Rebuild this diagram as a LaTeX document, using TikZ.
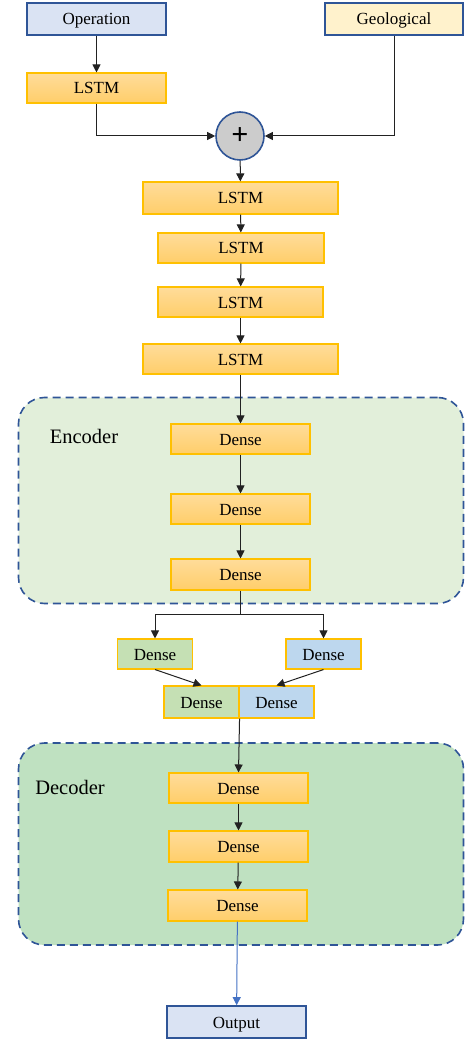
\documentclass[tikz,border=0pt]{standalone}
\usepackage{fontspec}
\setmainfont{Liberation Serif}
\usetikzlibrary{arrows.meta}
\definecolor{bdblue}{HTML}{2F5597}
\definecolor{inblue}{HTML}{DAE3F3}
\definecolor{geofill}{HTML}{FFF2CC}
\definecolor{gold}{HTML}{FFC000}
\definecolor{orgtop}{HTML}{FFDC9A}
\definecolor{orgbot}{HTML}{FFCE6A}
\definecolor{gfill}{HTML}{C5E0B4}
\definecolor{bfill}{HTML}{BDD7EE}
\definecolor{encfill}{HTML}{E2EFDA}
\definecolor{decfill}{HTML}{BFE1C1}
\definecolor{outarrow}{HTML}{4472C4}
\definecolor{lnk}{HTML}{222222}
\tikzset{
  txt/.style={font=\fontsize{17}{20}\selectfont, text=black, text height=12pt, text depth=-1pt},
  inbox/.style={txt, draw=bdblue, line width=1.6pt, fill=inblue, inner sep=0pt},
  geobox/.style={txt, draw=bdblue, line width=1.6pt, fill=geofill, inner sep=0pt},
  orgbox/.style={txt, draw=gold, line width=1.1pt, top color=orgtop, bottom color=orgbot, inner sep=0pt},
  gbox/.style={txt, draw=gold, line width=1.1pt, fill=gfill, inner sep=0pt, minimum width=75pt, minimum height=30pt},
  bbox/.style={txt, draw=gold, line width=1.1pt, fill=bfill, inner sep=0pt, minimum width=75pt, minimum height=30pt},
  container/.style={draw=bdblue, line width=1.6pt, dash pattern=on 8pt off 5pt, rounded corners=26pt, inner sep=0pt},
  grplabel/.style={font=\fontsize{20.5}{24}\selectfont, text=black},
  arr/.style={draw=lnk, line width=1pt, -{Triangle[width=8pt,length=8pt]}},
  plain/.style={draw=lnk, line width=1pt},
}
\begin{document}
\begin{tikzpicture}[x=1pt,y=-1pt]
\useasboundingbox (0,0) rectangle (464,1040);
% containers
\node[container, fill=encfill, minimum width=445pt, minimum height=206pt] (enc) at (241,500.5) {};
\node[container, fill=decfill, minimum width=445pt, minimum height=202pt] (dec) at (241,844) {};
\node[grplabel] (enclab) at (84,436) {Encoder};
\node[grplabel] (declab) at (70,787) {Decoder};
% inputs
\node[inbox, minimum width=139pt, minimum height=32pt] (op) at (96.5,19) {Operation};
\node[geobox, minimum width=138pt, minimum height=32pt] (geo) at (394,19) {Geological};
\node[orgbox, minimum width=139pt, minimum height=30pt] (l0) at (96.5,88) {LSTM};
\node[circle, draw=bdblue, line width=1.6pt, fill=gray!40, minimum size=48pt, inner sep=0pt, font=\fontsize{30}{30}\bfseries] (plus) at (240,136) {+};
% LSTM stack
\node[orgbox, minimum width=195pt, minimum height=32pt] (l1) at (240.5,198) {LSTM};
\node[orgbox, minimum width=166pt, minimum height=30pt] (l2) at (241,248) {LSTM};
\node[orgbox, minimum width=165pt, minimum height=30pt] (l3) at (240.5,302) {LSTM};
\node[orgbox, minimum width=195pt, minimum height=30pt] (l4) at (240.5,359) {LSTM};
% encoder
\node[orgbox, minimum width=139pt, minimum height=30pt] (e1) at (240.5,439) {Dense};
\node[orgbox, minimum width=139pt, minimum height=30pt] (e2) at (240.5,509) {Dense};
\node[orgbox, minimum width=139pt, minimum height=31pt] (e3) at (240.5,574.5) {Dense};
% split
\coordinate (split) at (240.5,614);
\node[gbox] (gd) at (155,654) {Dense};
\node[bbox] (bd) at (323.5,654) {Dense};
\node[gbox, minimum height=32pt] (cg) at (201.5,702) {Dense};
\node[bbox, minimum height=32pt] (cb) at (276.5,702) {Dense};
% decoder
\node[orgbox, minimum width=139pt, minimum height=30pt] (d1) at (238.5,788) {Dense};
\node[orgbox, minimum width=139pt, minimum height=31pt] (d2) at (238.5,846.5) {Dense};
\node[orgbox, minimum width=139pt, minimum height=31pt] (d3) at (237.5,905.5) {Dense};
\node[inbox, minimum width=139pt, minimum height=32pt] (out) at (236.5,1022) {Output};
% connectors
\draw[arr] (op) -- (l0);
\draw[arr] (l0.south) |- (plus.west);
\draw[arr] (geo.south) |- (plus.east);
\draw[arr] (plus) -- (l1);
\draw[arr] (l1) -- (l2);
\draw[arr] (l2) -- (l3);
\draw[arr] (l3) -- (l4);
\draw[arr] (l4) -- (e1);
\draw[arr] (e1) -- (e2);
\draw[arr] (e2) -- (e3);
\draw[plain] (e3.south) -- (split);
\draw[arr] (split) -| (gd.north);
\draw[arr] (split) -| (bd.north);
\draw[arr] (gd.south) -- (cg.north);
\draw[arr] (bd.south) -- (cb.north);
\draw[arr] (cg.south east) -- (d1.north);
\draw[arr] (d1) -- (d2);
\draw[arr] (d2) -- (d3);
\draw[draw=outarrow, line width=1pt, -{Triangle[width=8pt,length=8pt]}] (d3) -- (out);
\end{tikzpicture}
\end{document}
